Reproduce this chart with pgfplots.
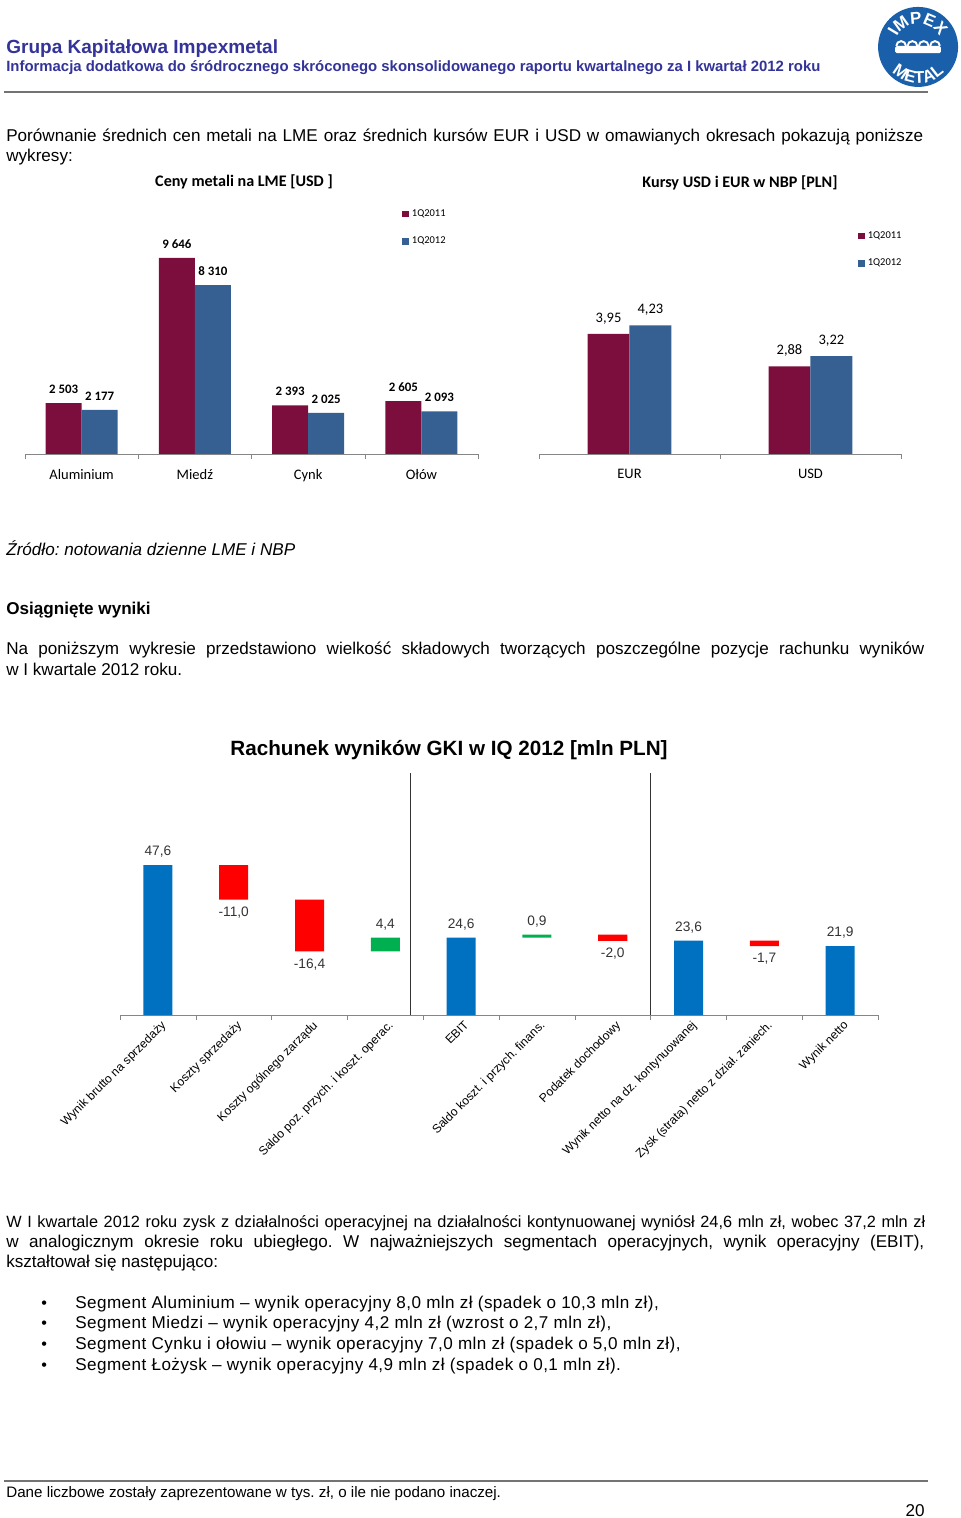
\documentclass[border=0pt]{standalone}
\usepackage{fontspec}
\setmainfont{Liberation Sans}
\newfontfamily\calfont{Carlito}
\usepackage{pgfplots}
\pgfplotsset{compat=1.18}
\usetikzlibrary{decorations.text}
\frenchspacing

\definecolor{hdr}{RGB}{51,51,153}
\definecolor{burg}{RGB}{124,14,62}
\definecolor{steel}{RGB}{55,96,146}
\definecolor{wfblue}{RGB}{0,112,192}
\definecolor{wfred}{RGB}{255,0,0}
\definecolor{wfgreen}{RGB}{0,176,80}
\definecolor{axgray}{RGB}{134,134,134}
\definecolor{logoblue}{RGB}{25,95,170}

\newcommand{\body}{\fontsize{10.6}{12}\selectfont}

\pgfplotsset{
  baseaxis/.style={
    scale only axis, anchor=south west, clip=false,
    axis x line*=bottom, axis y line=none, ytick=\empty,
    major tick length=0pt, minor tick length=3pt, tick align=outside,
    x axis line style={axgray}, minor tick style={axgray},
  },
  barchart/.style={
    baseaxis, ybar=0pt, ymin=0,
    xticklabel style={font=\calfont\fontsize{9}{10}\selectfont, yshift=-6pt},
    legend style={draw=none, fill=none, font=\calfont\fontsize{6.5}{7}\selectfont,
      row sep=7.2pt, inner sep=0pt},
    legend cell align=left,
    legend image code/.code={\fill[##1] (0pt,-2pt) rectangle (4pt,2pt);},
    nodes near coords, every node near coord/.append style={yshift=2.5pt},
    /pgf/number format/assume math mode=true,
  },
}

\begin{document}
\begin{tikzpicture}
\path[use as bounding box] (0,0) rectangle (595.2pt,-941.16pt);
\begin{scope}[x=0.62pt,y=-0.62pt]
  \coordinate (a1) at (25,454);
  \coordinate (a2) at (539,454);
  \coordinate (a3) at (120,1015);
  % header
  \node[anchor=base west, inner sep=0, text=hdr, font=\bfseries\fontsize{11.8}{14}\selectfont] at (6,54) {Grupa Kapitałowa Impexmetal};
  \node[anchor=base west, inner sep=0, text=hdr, font=\bfseries\fontsize{9.24}{11}\selectfont] at (6,72) {Informacja dodatkowa do śródrocznego skróconego skonsolidowanego raportu kwartalnego za I kwartał 2012 roku};
  \draw[black!55, line width=1pt] (4,92) -- (928,92);
  % text above charts
  \node[anchor=base west, inner sep=0, font=\body] at (6,142) {\makebox[568.5pt][s]{Porównanie średnich cen metali na LME oraz średnich kursów EUR i USD w omawianych okresach pokazują poniższe}};
  \node[anchor=base west, inner sep=0, font=\body] at (6,162) {wykresy:};
  \node[anchor=base, inner sep=0, font=\calfont\bfseries\fontsize{10}{11}\selectfont] at (244,187) {Ceny metali na LME [USD ]};
  \node[anchor=base, inner sep=0, font=\calfont\bfseries\fontsize{10}{11}\selectfont] at (740,188) {Kursy USD i EUR w NBP [PLN]};
  % text between charts
  \node[anchor=base west, inner sep=0, font=\itshape\body] at (6,556) {Źródło: notowania dzienne LME i NBP};
  \node[anchor=base west, inner sep=0, font=\bfseries\body] at (6,615) {Osiągnięte wyniki};
  \node[anchor=base west, inner sep=0, font=\body] at (6,655) {\makebox[569.2pt][s]{Na poniższym wykresie przedstawiono wielkość składowych tworzących poszczególne pozycje rachunku wyników}};
  \node[anchor=base west, inner sep=0, font=\body] at (6,675) {w I kwartale 2012 roku.};
  \node[anchor=base, inner sep=0, font=\bfseries\fontsize{12.8}{14}\selectfont] at (449,755) {Rachunek wyników GKI w IQ 2012 [mln PLN]};
  % text below charts
  \node[anchor=base west, inner sep=0, font=\fontsize{10.1}{12}\selectfont] at (6,1227) {\makebox[569.8pt][s]{W I kwartale 2012 roku zysk z działalności operacyjnej na działalności kontynuowanej wyniósł 24,6 mln zł, wobec 37,2 mln zł}};
  \node[anchor=base west, inner sep=0, font=\body] at (6,1247) {\makebox[569.2pt][s]{w analogicznym okresie roku ubiegłego. W najważniejszych segmentach operacyjnych, wynik operacyjny (EBIT),}};
  \node[anchor=base west, inner sep=0, font=\body] at (6,1267) {kształtował się następująco:};
  \foreach \yy/\tt in {1308/{Segment Aluminium – wynik operacyjny 8,0 mln zł (spadek o 10,3 mln zł),},
                       1328/{Segment Miedzi – wynik operacyjny 4,2 mln zł (wzrost o 2,7 mln zł),},
                       1349/{Segment Cynku i ołowiu – wynik operacyjny 7,0 mln zł (spadek o 5,0 mln zł),},
                       1370/{Segment Łożysk – wynik operacyjny 4,9 mln zł (spadek o 0,1 mln zł).}} {
    \node[anchor=base west, inner sep=0, font=\fontsize{10}{12}\selectfont] at (41,\yy) {•};
    \node[anchor=base west, inner sep=0, font=\body\addfontfeature{LetterSpace=2.6}] at (75,\yy) {\tt};
  }
  % footer
  \draw[black!55, line width=1pt] (4,1481) -- (928,1481);
  \node[anchor=base west, inner sep=0, font=\fontsize{9.4}{11}\selectfont] at (6,1497) {Dane liczbowe zostały zaprezentowane w tys. zł, o ile nie podano inaczej.};
  \node[anchor=base east, inner sep=0, font=\body] at (925,1516) {20};
\end{scope}

% logo
\fill[logoblue] (569.2pt,-29.1pt) circle (24.8pt);
\fill[white, rounded corners=1pt] (555pt,-33pt) rectangle (583.4pt,-28.5pt);
\foreach \dx in {-10.5,-3.5,3.5,10.5} {
  \draw[white, line width=1.2pt] ({569.2pt+\dx pt-3pt},-28.5pt) arc[start angle=180, end angle=0, radius=3pt];
}
\path[decorate, decoration={text along path, text align=center, text color=white,
  text={|\bfseries\fontsize{10.5}{10.5}\selectfont|IMPEX}}]
  (569.2pt,-29.1pt) ++(160:14.5pt) arc[start angle=160, end angle=20, radius=14.5pt];
\path[decorate, decoration={text along path, text align=center, text color=white,
  text={|\bfseries\fontsize{10.5}{10.5}\selectfont|METAL}}]
  (569.2pt,-29.1pt) ++(200:22.5pt) arc[start angle=200, end angle=340, radius=22.5pt];

% chart 1: metal prices
\begin{axis}[barchart, at={(a1)}, width=280.9pt, height=157.5pt,
  xmin=-0.5, xmax=3.5, ymax=12500, bar width=22.3pt,
  xtick={0,1,2,3}, xticklabels={Aluminium,Miedź,Cynk,Ołów},
  minor xtick={-0.5,0.5,1.5,2.5,3.5},
  nodes near coords style={font=\calfont\bfseries\fontsize{8}{9}\selectfont},
  /pgf/number format/1000 sep={\ },
  legend style={at={(0.832,0.976)}, anchor=north west}]
  \addplot[fill=burg, draw=none] coordinates {(0,2503) (1,9646) (2,2393) (3,2605)};
  \addplot[fill=steel, draw=none] coordinates {(0,2177) (1,8310) (2,2025) (3,2093)};
  \legend{1Q2011,1Q2012}
\end{axis}

% chart 2: exchange rates
\begin{axis}[barchart, at={(a2)}, width=224.4pt, height=157.5pt,
  xmin=-0.5, xmax=1.5, ymax=8.36, bar width=26pt,
  xtick={0,1}, xticklabels={EUR,USD},
  minor xtick={-0.5,0.5,1.5},
  nodes near coords style={font=\calfont\fontsize{9}{10}\selectfont},
  /pgf/number format/.cd, fixed, fixed zerofill, precision=2, use comma, /pgfplots/.cd,
  legend style={at={(0.881,0.89)}, anchor=north west}]
  \addplot[fill=burg, draw=none] coordinates {(0,3.95) (1,2.88)};
  \addplot[fill=steel, draw=none] coordinates {(0,4.23) (1,3.22)};
  \legend{1Q2011,1Q2012}
\end{axis}

% chart 3: waterfall
\begin{axis}[baseaxis, at={(a3)}, width=470pt, height=150pt,
  xmin=-0.5, xmax=9.5, ymin=0, ymax=76.8,
  ybar stacked, bar width=18pt,
  xtick={0,...,9},
  xticklabels={Wynik brutto na sprzedaży, Koszty sprzedaży, Koszty ogólnego zarządu,
    Saldo poz. przych. i koszt. operac., EBIT, Saldo koszt. i przych. finans.,
    Podatek dochodowy, Wynik netto na dz. kontynuowanej,
    Zysk (strata) netto z dział. zaniech., Wynik netto},
  xticklabel style={rotate=45, anchor=north east, inner sep=1pt, yshift=-2pt,
    font=\fontsize{7.5}{8}\selectfont},
  minor xtick={-0.5,0.5,...,9.5},
  extra x ticks={3.33,6.5}, extra x tick labels={},
  extra x tick style={grid=major, major grid style={black!80, line width=0.6pt}}]
  \addplot[fill=none, draw=none] coordinates {(0,0) (1,36.6) (2,20.2) (3,20.2) (4,0) (5,24.6) (6,23.5) (7,0) (8,21.9) (9,0)};
  \addplot[fill=wfblue, draw=none] coordinates {(0,47.6) (1,0) (2,0) (3,0) (4,24.6) (5,0) (6,0) (7,23.6) (8,0) (9,21.9)};
  \addplot[fill=wfred, draw=none] coordinates {(0,0) (1,11.0) (2,16.4) (3,0) (4,0) (5,0) (6,2.0) (7,0) (8,1.7) (9,0)};
  \addplot[fill=wfgreen, draw=none] coordinates {(0,0) (1,0) (2,0) (3,4.4) (4,0) (5,0.9) (6,0) (7,0) (8,0) (9,0)};
\end{axis}
% waterfall value labels
\begin{axis}[scale only axis, anchor=south west, at={(a3)}, width=470pt, height=150pt,
  xmin=-0.5, xmax=9.5, ymin=0, ymax=76.8, hide axis, clip=false,
  nodes near coords, point meta=explicit symbolic,
  nodes near coords style={font=\fontsize{8.5}{10}\selectfont, text=black!80}]
  \addplot[draw=none, mark=none, every node near coord/.append style={anchor=south, yshift=1pt}]
    coordinates {(0,47.6) [47,6] (3,24.6) [4,4] (4,24.6) [24,6] (5,25.5) [0,9] (7,23.6) [23,6] (9,21.9) [21,9]};
  \addplot[draw=none, mark=none, every node near coord/.append style={anchor=north, yshift=-1pt}]
    coordinates {(1,36.6) [-11,0] (2,20.2) [-16,4] (6,23.5) [-2,0] (8,21.9) [-1,7]};
\end{axis}
\end{tikzpicture}
\end{document}
